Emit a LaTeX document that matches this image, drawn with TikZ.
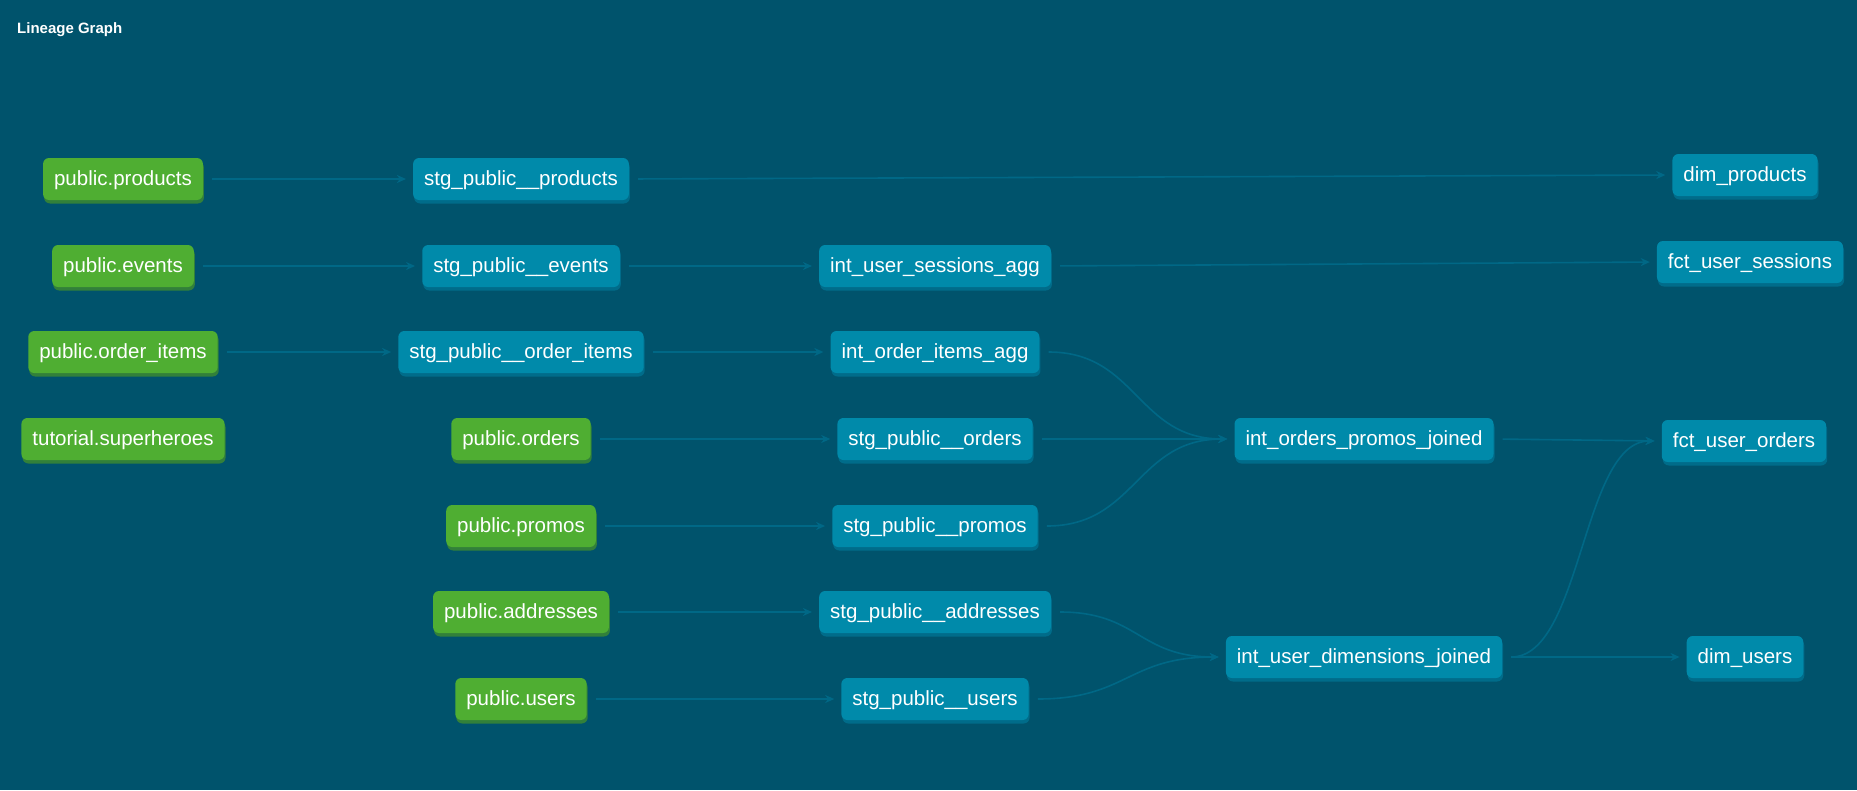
\documentclass[tikz,border=0pt]{standalone}
\usepackage{fontspec}
\setmainfont{Liberation Sans}
\usetikzlibrary{arrows.meta,shadows,calc}
\definecolor{bgc}{RGB}{0,83,108}
\definecolor{tealn}{RGB}{0,138,170}
\definecolor{tealsh}{RGB}{0,108,138}
\definecolor{greenn}{RGB}{79,174,50}
\definecolor{greensh}{RGB}{50,128,58}
\definecolor{edgec}{RGB}{0,104,134}
\tikzset{
  base/.style={rounded corners=6pt, text=white, font=\fontsize{20.5}{22}\selectfont,
    minimum height=42pt, inner xsep=11pt, inner ysep=0pt, text height=16pt, text depth=4pt},
  modelnode/.style={base, fill=tealn, drop shadow={shadow xshift=1pt, shadow yshift=-3.5pt, fill=tealsh, opacity=1}},
  srcnode/.style={base, fill=greenn, drop shadow={shadow xshift=1pt, shadow yshift=-3.5pt, fill=greensh, opacity=1}},
  edge/.style={draw=edgec, line width=1.6pt, shorten <=9pt, shorten >=7pt,
    -{Stealth[length=9pt,width=8pt]}},
}
\newcommand{\curvedge}[2]{%
  \draw[edge] let \p1=(#1.east), \p2=(#2.west) in
    (\p1) .. controls ({(\x1+\x2)/2},\y1) and ({(\x1+\x2)/2},\y2) .. (\p2);}
\begin{document}
\begin{tikzpicture}[x=1pt,y=-1pt]
\fill[bgc] (0,0) rectangle (1857,790);
\useasboundingbox (0,0) rectangle (1857,790);
\node[anchor=base west, text=white, font=\bfseries\fontsize{15}{17}\selectfont, inner sep=0pt] (title) at (17,33) {Lineage Graph};

% sources
\node[srcnode] (pproducts) at (123,179) {public.products};
\node[srcnode] (pevents) at (123,266) {public.events};
\node[srcnode] (porderitems) at (123,352) {public.order\_items};
\node[srcnode] (superheroes) at (123,439) {tutorial.superheroes};
\node[srcnode] (porders) at (521,439) {public.orders};
\node[srcnode] (ppromos) at (521,526) {public.promos};
\node[srcnode] (paddresses) at (521,612) {public.addresses};
\node[srcnode] (pusers) at (521,699) {public.users};

% staging
\node[modelnode] (sproducts) at (521,179) {stg\_public\_\_products};
\node[modelnode] (sevents) at (521,266) {stg\_public\_\_events};
\node[modelnode] (sorderitems) at (521,352) {stg\_public\_\_order\_items};
\node[modelnode] (sorders) at (935,439) {stg\_public\_\_orders};
\node[modelnode] (spromos) at (935,526) {stg\_public\_\_promos};
\node[modelnode] (saddresses) at (935,612) {stg\_public\_\_addresses};
\node[modelnode] (susers) at (935,699) {stg\_public\_\_users};

% intermediate
\node[modelnode] (isessions) at (935,266) {int\_user\_sessions\_agg};
\node[modelnode] (iorderitems) at (935,352) {int\_order\_items\_agg};
\node[modelnode] (ipromos) at (1364,439) {int\_orders\_promos\_joined};
\node[modelnode] (idims) at (1364,657) {int\_user\_dimensions\_joined};

% marts
\node[modelnode] (dproducts) at (1745,175) {dim\_products};
\node[modelnode] (fsessions) at (1750,262) {fct\_user\_sessions};
\node[modelnode] (forders) at (1744,441) {fct\_user\_orders};
\node[modelnode] (dusers) at (1745,657) {dim\_users};

% edges
\draw[edge] (pproducts) -- (sproducts);
\draw[edge] (pevents) -- (sevents);
\draw[edge] (porderitems) -- (sorderitems);
\draw[edge] (porders) -- (sorders);
\draw[edge] (ppromos) -- (spromos);
\draw[edge] (paddresses) -- (saddresses);
\draw[edge] (pusers) -- (susers);
\draw[edge] (sproducts.east) -- (dproducts.west);
\draw[edge] (sevents) -- (isessions);
\draw[edge] (isessions.east) -- (fsessions.west);
\draw[edge] (sorderitems) -- (iorderitems);
\curvedge{iorderitems}{ipromos}
\draw[edge] (sorders) -- (ipromos);
\curvedge{spromos}{ipromos}
\curvedge{saddresses}{idims}
\curvedge{susers}{idims}
\draw[edge] (ipromos.east) -- (forders.west);
\curvedge{idims}{forders}
\draw[edge] (idims) -- (dusers);
\end{tikzpicture}
\end{document}
